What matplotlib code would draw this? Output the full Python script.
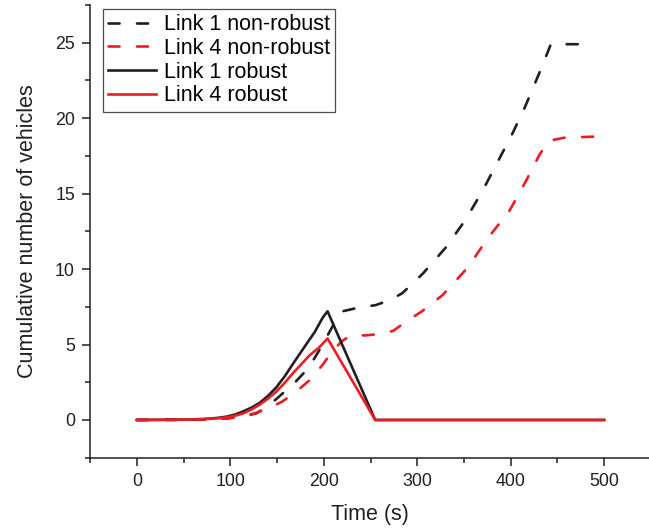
import matplotlib
matplotlib.use("Agg")
import matplotlib.pyplot as plt
from matplotlib.ticker import MultipleLocator

plt.rcParams['font.family'] = ['Liberation Sans', 'DejaVu Sans']

# Link 1 non-robust (black dashed)
t_l1_nr = [0, 60, 96, 112, 128, 142, 156, 170, 183, 194, 204, 212, 220, 241, 255, 271, 284, 306, 331, 352, 370, 386, 402, 415, 430, 443, 480]
y_l1_nr = [0, 0.01, 0.1, 0.22, 0.44, 1.0, 1.76, 2.55, 3.4, 4.5, 5.6, 6.5, 7.2, 7.5, 7.6, 7.95, 8.4, 9.7, 11.46, 13.3, 15.2, 17.1, 19.0, 20.7, 22.9, 24.9, 24.9]

# Link 4 non-robust (red dashed)
t_l4_nr = [0, 60, 96, 112, 126, 140, 155, 170, 185, 198, 210, 220, 230, 244, 260, 274, 290, 305, 327, 354, 375, 399, 416, 431, 441, 457, 500]
y_l4_nr = [0, 0.01, 0.1, 0.22, 0.44, 0.75, 1.2, 1.85, 2.65, 3.6, 4.63, 5.25, 5.64, 5.6, 5.7, 5.9, 6.6, 7.2, 8.27, 10.1, 12.0, 13.9, 15.8, 17.6, 18.5, 18.7, 18.8]

# Link 1 robust (black solid)
t_l1_r = [0, 50, 70, 80, 88, 96, 105, 113, 122, 131, 140, 149, 158, 167, 175, 183, 190, 199, 204, 255, 500]
y_l1_r = [0, 0.02, 0.06, 0.1, 0.15, 0.22, 0.36, 0.55, 0.8, 1.12, 1.58, 2.15, 2.88, 3.72, 4.45, 5.18, 5.8, 6.8, 7.2, 0, 0]

# Link 4 robust (red solid)
t_l4_r = [0, 50, 70, 80, 88, 96, 105, 114, 122, 131, 140, 149, 158, 167, 176, 185, 195, 204, 255, 500]
y_l4_r = [0, 0.02, 0.05, 0.08, 0.12, 0.17, 0.28, 0.44, 0.68, 1.0, 1.4, 1.87, 2.45, 3.1, 3.7, 4.3, 4.8, 5.4, 0, 0]

labels = ["Link 1 non-robust", "Link 4 non-robust", "Link 1 robust", "Link 4 robust"]

BLACK = '#231f20'
RED = '#ed1c24'

fig = plt.figure(figsize=(6.49, 5.29), dpi=100)
ax = fig.add_axes([0.139, 0.1348, 0.861, 0.8558])

lw = 1.9
dash = (0, (4.2, 6.6))
ax.plot(t_l1_nr, y_l1_nr, color=BLACK, lw=lw, linestyle=dash, dash_capstyle='round', label=labels[0])
ax.plot(t_l4_nr, y_l4_nr, color=RED, lw=lw, linestyle=dash, dash_capstyle='round', label=labels[1])
ax.plot(t_l1_r, y_l1_r, color=BLACK, lw=lw, label=labels[2])
ax.plot(t_l4_r, y_l4_r, color=RED, lw=lw, label=labels[3])

ax.set_xlim(-50, 548)
ax.set_ylim(-2.5, 27.5)
ax.xaxis.set_major_locator(MultipleLocator(100))
ax.xaxis.set_minor_locator(MultipleLocator(50))
ax.yaxis.set_major_locator(MultipleLocator(5))
ax.yaxis.set_minor_locator(MultipleLocator(2.5))

for s in ['top', 'right']:
    ax.spines[s].set_visible(False)
for s in ['left', 'bottom']:
    ax.spines[s].set_linewidth(1.1)
    ax.spines[s].set_color(BLACK)

ax.tick_params(which='major', direction='out', length=6, width=1.1, labelsize=12.8, colors=BLACK, pad=5)
ax.tick_params(which='minor', direction='out', length=3.5, width=1.1, colors=BLACK)

ax.set_xlabel("Time (s)", fontsize=15.5, color=BLACK, labelpad=10)
ax.set_ylabel("Cumulative number of vehicles", fontsize=15.5, color=BLACK, labelpad=12)

leg = ax.legend(loc='upper left', bbox_to_anchor=(0.022, 0.991), fontsize=15.5, frameon=True,
                fancybox=False, edgecolor=BLACK, handlelength=2.25, handletextpad=0.35,
                labelspacing=0.12, borderpad=0.25, borderaxespad=0)
leg.get_frame().set_linewidth(0.9)

fig.savefig("out.png", dpi=100)
